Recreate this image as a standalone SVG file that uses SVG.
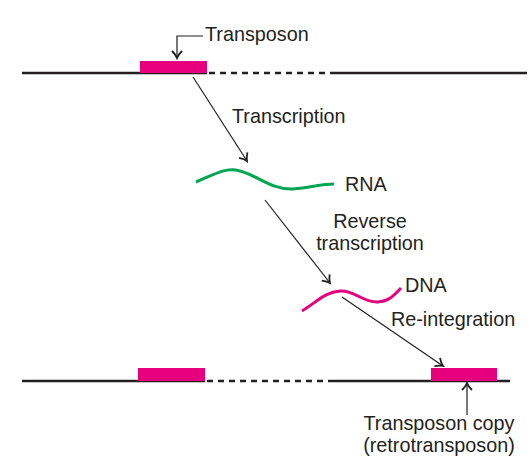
<svg xmlns="http://www.w3.org/2000/svg" width="532" height="474" viewBox="0 0 532 474">
<defs>
<style>
.lbl{font-family:"Liberation Sans",Arial,sans-serif;font-size:19.8px;fill:#231f20}
.chrom{stroke:#231f20;stroke-width:2.5;fill:none}
.dash{stroke:#231f20;stroke-width:2.5;stroke-dasharray:6,5;fill:none}
.tp{fill:#e6007e}
.arr{stroke:#231f20;stroke-width:1.2;fill:none;marker-end:url(#ah)}
</style>
<marker id="ah" viewBox="-10 -6 12 12" refX="0" refY="0" markerWidth="12" markerHeight="12" markerUnits="userSpaceOnUse" orient="auto">
<path d="M-7,-5 Q-3,-1 0,0 Q-3,1 -7,5" stroke="#231f20" stroke-width="1.8" fill="none"/>
</marker>
</defs>
<rect width="532" height="474" fill="#fff"/>
<g id="top-chromosome">
<line class="chrom" x1="22" y1="73" x2="207" y2="73"/>
<line class="dash" x1="209" y1="73" x2="333" y2="73"/>
<line class="chrom" x1="333" y1="73" x2="527" y2="73"/>
<rect class="tp" x="140" y="61" width="67" height="12"/>
</g>
<g id="transposon-label">
<path class="arr" d="M203,36 H177 V58"/>
<text class="lbl" x="205" y="41">Transposon</text>
</g>
<g id="rna">
<path d="M196,182 C215,174 225,168 236,170 C255,173 270,190 293,189 C310,188 320,184 334,184" stroke="#00a651" stroke-width="3" fill="none"/>
<text class="lbl" x="345" y="191">RNA</text>
</g>
<g id="dna">
<path d="M302,311 C318,301 325,292 340,291 C355,290 363,303 378,302 C390,301 395,294 401,288" stroke="#e6007e" stroke-width="3" fill="none"/>
<text class="lbl" x="405" y="292">DNA</text>
</g>
<g id="bottom-chromosome">
<line class="chrom" x1="22" y1="381" x2="205" y2="381"/>
<line class="dash" x1="207" y1="381" x2="333" y2="381"/>
<line class="chrom" x1="333" y1="381" x2="510" y2="381"/>
<rect class="tp" x="138" y="368" width="67" height="13"/>
<rect class="tp" x="431" y="368" width="66" height="13"/>
</g>
<g id="copy-label">
<path class="arr" d="M467,415 V383"/>
<text class="lbl" x="439" y="430" text-anchor="middle">Transposon copy</text>
<text class="lbl" x="439" y="452" text-anchor="middle">(retrotransposon)</text>
</g>
<g id="connectors">
<line class="arr" x1="193" y1="77" x2="247" y2="161"/>
<text class="lbl" x="232" y="123">Transcription</text>
<line class="arr" x1="265" y1="200" x2="330" y2="283"/>
<text class="lbl" x="370" y="228" text-anchor="middle">Reverse</text>
<text class="lbl" x="370" y="250" text-anchor="middle">transcription</text>
<line class="arr" x1="342" y1="297" x2="443" y2="366"/>
<text class="lbl" x="391" y="326">Re-integration</text>
</g>
</svg>
